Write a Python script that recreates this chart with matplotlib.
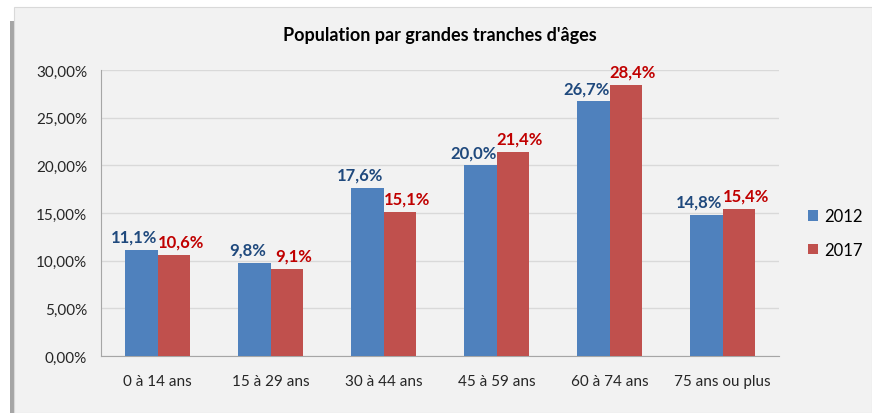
import numpy as np
import matplotlib.pyplot as plt
from matplotlib.patches import Rectangle
from matplotlib.ticker import FuncFormatter

categories = ["0 à 14 ans", "15 à 29 ans", "30 à 44 ans", "45 à 59 ans", "60 à 74 ans", "75 ans ou plus"]
v2012 = [11.1, 9.8, 17.6, 20.0, 26.7, 14.8]
v2017 = [10.6, 9.1, 15.1, 21.4, 28.4, 15.4]
years = ["2012", "2017"]

plt.rcParams['font.family'] = ['Lato', 'DejaVu Sans']

fig = plt.figure(figsize=(8.72, 4.14), dpi=100)
fig.patch.set_facecolor("white")
# chart frame with a soft shadow on the left
fig.patches.append(Rectangle((10/872, 0), 5/872, 1 - 22/414, transform=fig.transFigure,
                             facecolor="#A6A6A6", edgecolor="none", zorder=-2))
fig.patches.append(Rectangle((14/872, 0), 1 - 14/872, 1 - 8/414, transform=fig.transFigure,
                             facecolor="#F2F2F2", edgecolor="#D9D9D9", lw=0.8, zorder=-1))

ax = fig.add_axes([101/872, 1 - 357/414, 678/872, 286/414])
ax.set_zorder(2)
ax.set_facecolor("#F2F2F2")

x = np.arange(len(categories))
w = 0.29
ax.bar(x - w/2, v2012, w, color="#4F81BD", label=years[0], zorder=3)
ax.bar(x + w/2, v2017, w, color="#C0504D", label=years[1], zorder=3)

for xi, v in zip(x, v2012):
    ax.text(xi - w/2 - 0.06, v + 0.55, f"{v:.1f}%".replace(".", ","), ha="center", va="bottom",
            color="#1F497D", fontsize=12, fontweight="bold")
for xi, v in zip(x, v2017):
    ax.text(xi + w/2 + 0.06, v + 0.55, f"{v:.1f}%".replace(".", ","), ha="center", va="bottom",
            color="#C00000", fontsize=12, fontweight="bold")

ax.set_xlim(-0.5, len(categories) - 0.5)
ax.set_ylim(0, 30)
ax.set_yticks(np.arange(0, 31, 5))
ax.yaxis.set_major_formatter(FuncFormatter(lambda v, p: f"{v:.2f}%".replace(".", ",")))
ax.set_xticks(x)
ax.set_xticklabels(categories)
ax.tick_params(axis="both", length=0, labelsize=11, colors="#262626")
ax.tick_params(axis="x", pad=13)
ax.tick_params(axis="y", pad=10)
ax.grid(axis="y", color="#D9D9D9", lw=1, zorder=0)
for s in ["top", "right"]:
    ax.spines[s].set_visible(False)
ax.spines["left"].set_color("#A6A6A6")
ax.spines["bottom"].set_color("#A6A6A6")

fig.text(440/872, 1 - 35/414, "Population par grandes tranches d'âges",
         ha="center", va="center", fontsize=13, fontweight="bold", color="black")

ax.legend(loc="center left", bbox_to_anchor=(1.02, 0.43), frameon=False, fontsize=12,
          handlelength=0.6, handleheight=0.6, handletextpad=0.4, labelspacing=1.05)

fig.savefig("out.png", dpi=100)
